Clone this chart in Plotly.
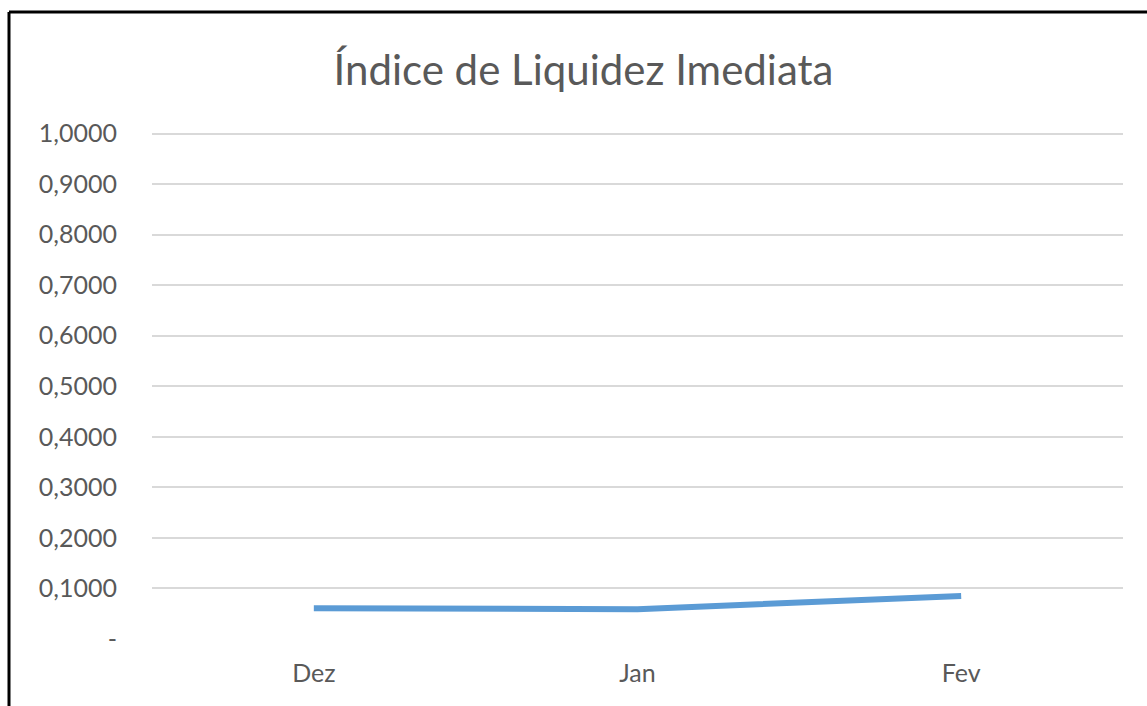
import plotly.graph_objects as go

categories = ["Dez", "Jan", "Fev"]
values = [0.061, 0.059, 0.085]
tick_vals = [0, 0.1, 0.2, 0.3, 0.4, 0.5, 0.6, 0.7, 0.8, 0.9, 1.0]
tick_text = ["-", "0,1000", "0,2000", "0,3000", "0,4000", "0,5000",
             "0,6000", "0,7000", "0,8000", "0,9000", "1,0000"]

W, H = 1147, 706
L, R, T, B = 152, 24, 132, 67
pw, ph = W - L - R, H - T - B

fig = go.Figure()
fig.add_trace(go.Scatter(
    x=categories, y=values, mode="lines",
    line=dict(color="#5B9BD5", width=6, shape="spline", smoothing=0.3),
    showlegend=False, hoverinfo="skip",
))

bx = (9 - L) / pw
by = 1 + (T - 12) / ph

font_family = "Lato, 'Open Sans', sans-serif"
fig.update_layout(
    width=W, height=H,
    margin=dict(l=L, r=R, t=T, b=B),
    paper_bgcolor="white", plot_bgcolor="white",
    title=dict(text="Índice de Liquidez Imediata", x=583.5 / W, xanchor="center",
               y=1 - 70 / H, yanchor="middle",
               font=dict(family=font_family, size=42, color="#595959")),
    xaxis=dict(range=[-0.5, 2.5], showgrid=False, zeroline=False, showline=False,
               ticks="", tickfont=dict(family=font_family, size=25, color="#595959"),
               ticklabelstandoff=17),
    yaxis=dict(range=[0, 1.003], tickvals=tick_vals, ticktext=tick_text,
               showgrid=True, gridcolor="#D9D9D9", gridwidth=2, zeroline=False,
               showline=False, ticks="",
               tickfont=dict(family=font_family, size=25, color="#595959"),
               ticklabelstandoff=34),
    shapes=[
        dict(type="line", xref="paper", yref="paper",
             x0=bx, x1=(W - L) / pw + 0.01, y0=by, y1=by,
             line=dict(color="black", width=3), layer="above"),
        dict(type="line", xref="paper", yref="paper",
             x0=bx, x1=bx, y0=by, y1=-B / ph - 0.01,
             line=dict(color="black", width=3), layer="above"),
    ],
)

fig.write_html(
    "out.html",
    config={"displayModeBar": False, "staticPlot": True},
    post_script="document.body.style.margin='0';"
                "document.documentElement.style.overflow='hidden';"
                "document.body.style.overflow='hidden';",
)
